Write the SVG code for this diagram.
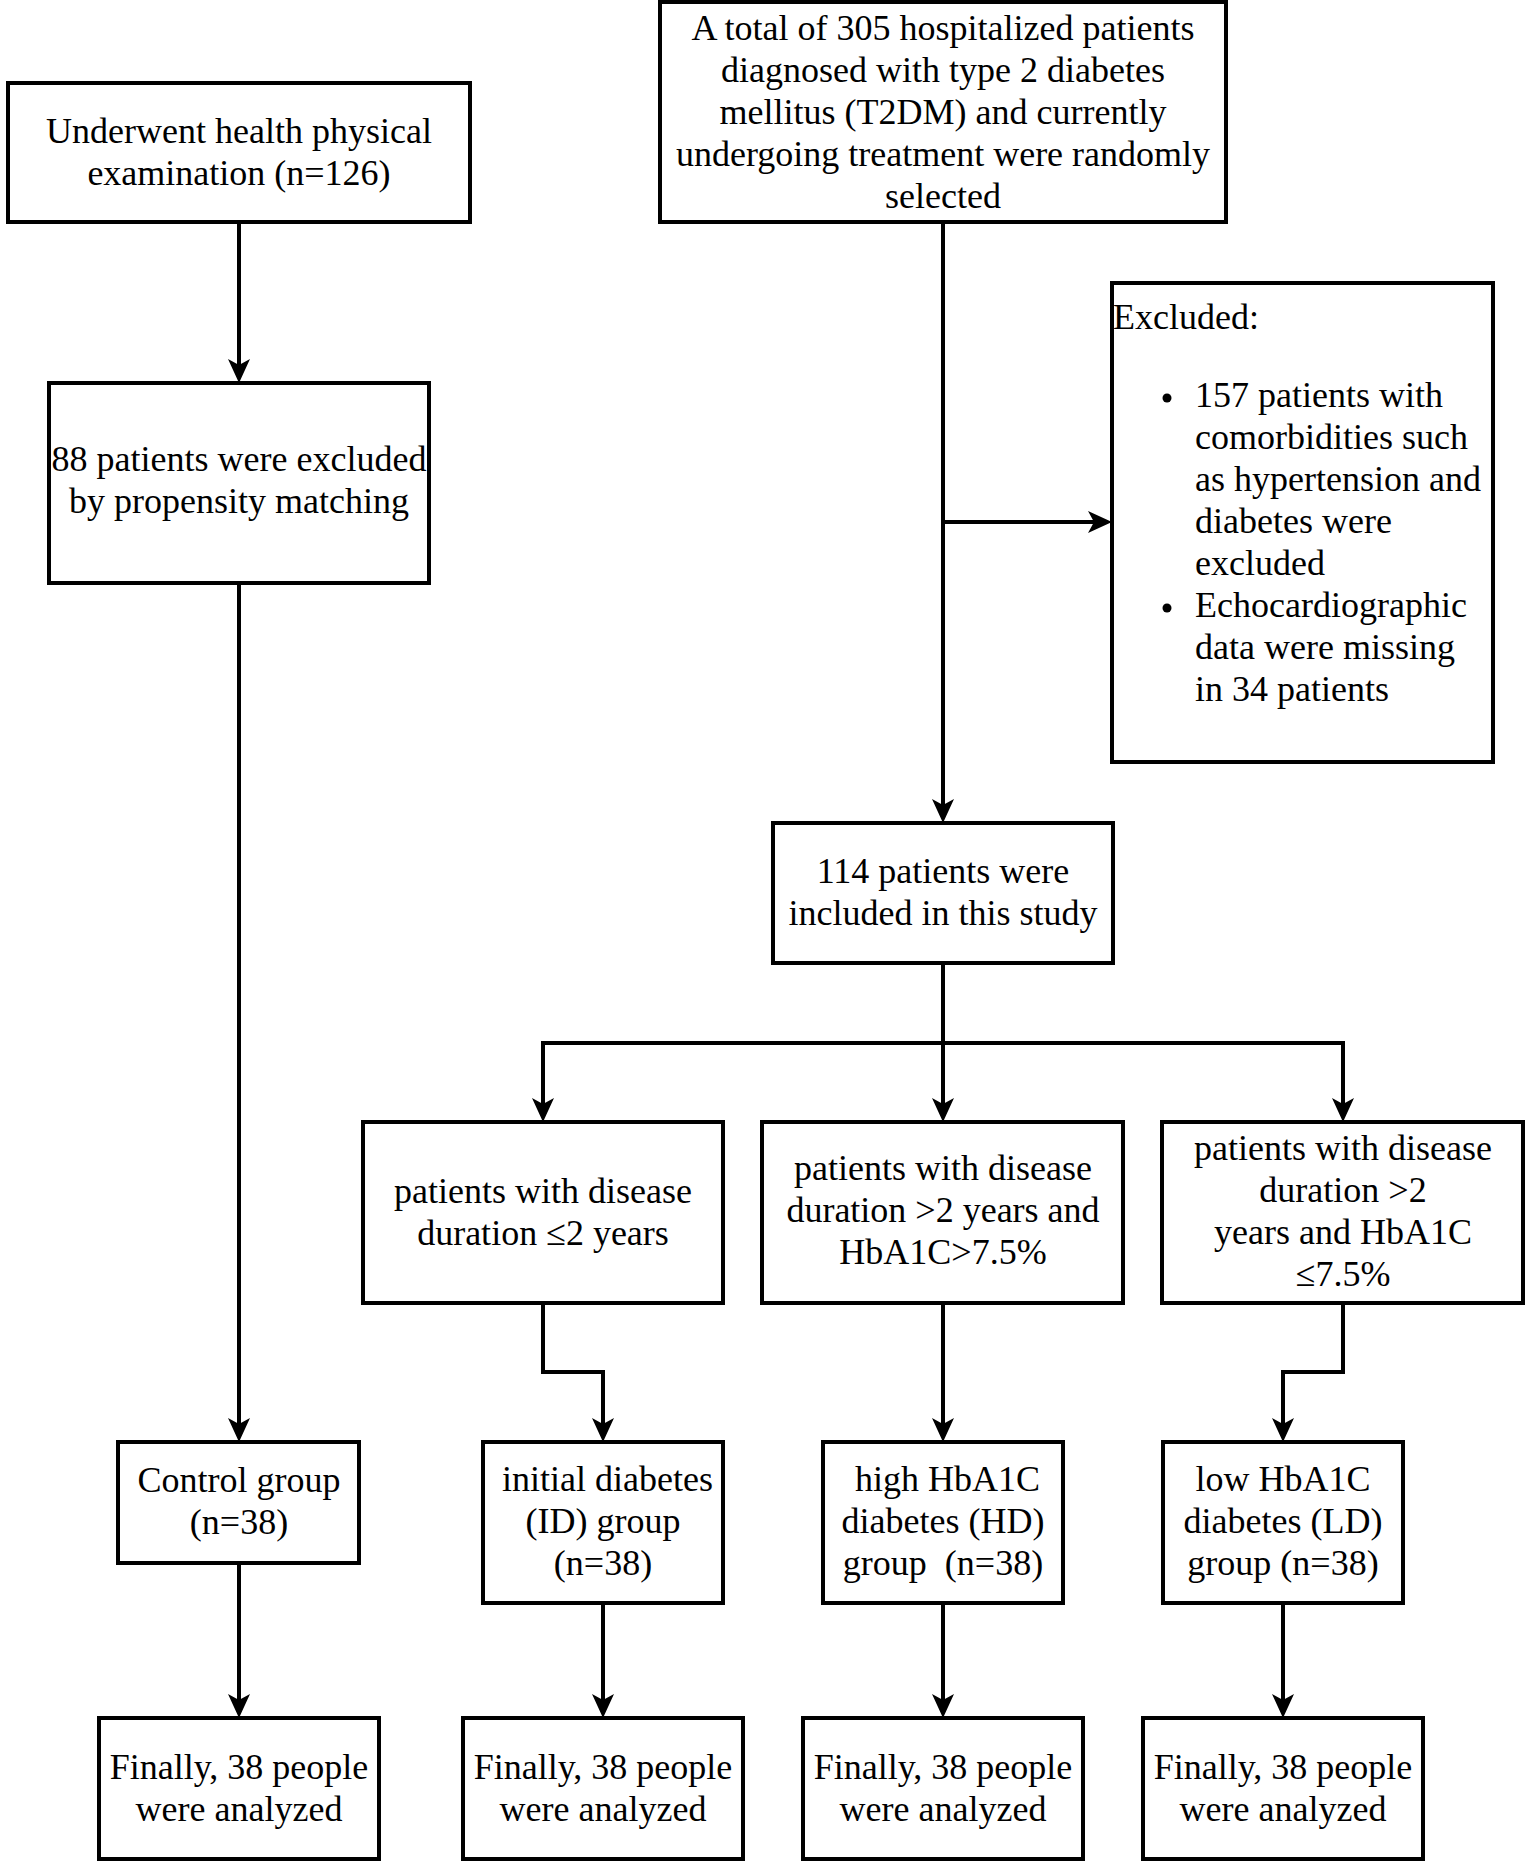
<svg xmlns="http://www.w3.org/2000/svg" width="1528" height="1864" viewBox="0 0 1528 1864">
<style>
.box{fill:#fff;stroke:#000;stroke-width:4}
.t{font-family:"Liberation Serif","Times New Roman",serif;font-size:36px;fill:#000;text-anchor:middle}
.l{text-anchor:start}
.pre{white-space:pre}
.c{fill:none;stroke:#000;stroke-width:4}
.a{marker-end:url(#arr)}
</style>
<defs>
<marker id="arr" viewBox="0 0 24 24" refX="16" refY="12" markerWidth="24" markerHeight="24" markerUnits="userSpaceOnUse" orient="auto">
<path d="M0,1 L24,12 L0,23 L6,12 Z" fill="#000"/>
</marker>
</defs>
<rect width="1528" height="1864" fill="#fff"/>
<g id="connectors">
<path class="c a" d="M239,222 V375"/>
<path class="c a" d="M943,222 V815"/>
<path class="c a" d="M943,522 H1104"/>
<path class="c a" d="M239,583 V1434"/>
<path class="c a" d="M943,963 V1114"/>
<path class="c a" d="M943,1043 H543 V1114"/>
<path class="c a" d="M943,1043 H1343 V1114"/>
<path class="c a" d="M543,1303 V1372 H603 V1434"/>
<path class="c a" d="M943,1303 V1434"/>
<path class="c a" d="M1343,1303 V1372 H1283 V1434"/>
<path class="c a" d="M239,1563 V1710"/>
<path class="c a" d="M603,1603 V1710"/>
<path class="c a" d="M943,1603 V1710"/>
<path class="c a" d="M1283,1603 V1710"/>
</g>
<g id="n-health">
<rect class="box" x="8" y="83" width="462" height="139"/>
<text class="t" x="239" y="143">Underwent health physical</text>
<text class="t" x="239" y="185">examination (n=126)</text>
</g>
<g id="n-excluded88">
<rect class="box" x="49" y="383" width="380" height="200"/>
<text class="t" x="239" y="471">88 patients were excluded</text>
<text class="t" x="239" y="513">by propensity matching</text>
</g>
<g id="n-total">
<rect class="box" x="660" y="2" width="566" height="220"/>
<text class="t" x="943" y="40">A total of 305 hospitalized patients</text>
<text class="t" x="943" y="82">diagnosed with type 2 diabetes</text>
<text class="t" x="943" y="124">mellitus (T2DM) and currently</text>
<text class="t" x="943" y="166">undergoing treatment were randomly</text>
<text class="t" x="943" y="208">selected</text>
</g>
<g id="n-excl">
<rect class="box" x="1112" y="283" width="381" height="479"/>
<text class="t l" x="1113" y="329">Excluded:</text>
<circle cx="1167" cy="398" r="4.5"/>
<circle cx="1167" cy="608" r="4.5"/>
<text class="t l" x="1195" y="407">157 patients with</text>
<text class="t l" x="1195" y="449">comorbidities such</text>
<text class="t l" x="1195" y="491">as hypertension and</text>
<text class="t l" x="1195" y="533">diabetes were</text>
<text class="t l" x="1195" y="575">excluded</text>
<text class="t l" x="1195" y="617">Echocardiographic</text>
<text class="t l" x="1195" y="659">data were missing</text>
<text class="t l" x="1195" y="701">in 34 patients</text>
</g>
<g id="n-included">
<rect class="box" x="773" y="823" width="340" height="140"/>
<text class="t" x="943" y="883">114 patients were</text>
<text class="t" x="943" y="925">included in this study</text>
</g>
<g id="n-short">
<rect class="box" x="363" y="1122" width="360" height="181"/>
<text class="t" x="543" y="1203">patients with disease</text>
<text class="t" x="543" y="1245">duration ≤2 years</text>
</g>
<g id="n-highdur">
<rect class="box" x="762" y="1122" width="361" height="181"/>
<text class="t" x="943" y="1180">patients with disease</text>
<text class="t" x="943" y="1222">duration &gt;2 years and</text>
<text class="t" x="943" y="1264">HbA1C&gt;7.5%</text>
</g>
<g id="n-lowdur">
<rect class="box" x="1162" y="1122" width="361" height="181"/>
<text class="t" x="1343" y="1160">patients with disease</text>
<text class="t" x="1343" y="1202">duration &gt;2</text>
<text class="t" x="1343" y="1244">years and HbA1C</text>
<text class="t" x="1343" y="1286">≤7.5%</text>
</g>
<g id="n-control">
<rect class="box" x="118" y="1442" width="241" height="121"/>
<text class="t" x="239" y="1492">Control group</text>
<text class="t" x="239" y="1534">(n=38)</text>
</g>
<g id="n-id">
<rect class="box" x="483" y="1442" width="240" height="161"/>
<text class="t pre" x="603" y="1491"> initial diabetes</text>
<text class="t" x="603" y="1533">(ID) group</text>
<text class="t" x="603" y="1575">(n=38)</text>
</g>
<g id="n-hd">
<rect class="box" x="823" y="1442" width="240" height="161"/>
<text class="t pre" x="943" y="1491"> high HbA1C</text>
<text class="t" x="943" y="1533">diabetes (HD)</text>
<text class="t pre" x="943" y="1575">group  (n=38)</text>
</g>
<g id="n-ld">
<rect class="box" x="1163" y="1442" width="240" height="161"/>
<text class="t" x="1283" y="1491">low HbA1C</text>
<text class="t" x="1283" y="1533">diabetes (LD)</text>
<text class="t" x="1283" y="1575">group (n=38)</text>
</g>
<g id="n-final1">
<rect class="box" x="99" y="1718" width="280" height="141"/>
<text class="t" x="239" y="1779">Finally, 38 people</text>
<text class="t" x="239" y="1821">were analyzed</text>
</g>
<g id="n-final2">
<rect class="box" x="463" y="1718" width="280" height="141"/>
<text class="t" x="603" y="1779">Finally, 38 people</text>
<text class="t" x="603" y="1821">were analyzed</text>
</g>
<g id="n-final3">
<rect class="box" x="803" y="1718" width="280" height="141"/>
<text class="t" x="943" y="1779">Finally, 38 people</text>
<text class="t" x="943" y="1821">were analyzed</text>
</g>
<g id="n-final4">
<rect class="box" x="1143" y="1718" width="280" height="141"/>
<text class="t" x="1283" y="1779">Finally, 38 people</text>
<text class="t" x="1283" y="1821">were analyzed</text>
</g>
</svg>
